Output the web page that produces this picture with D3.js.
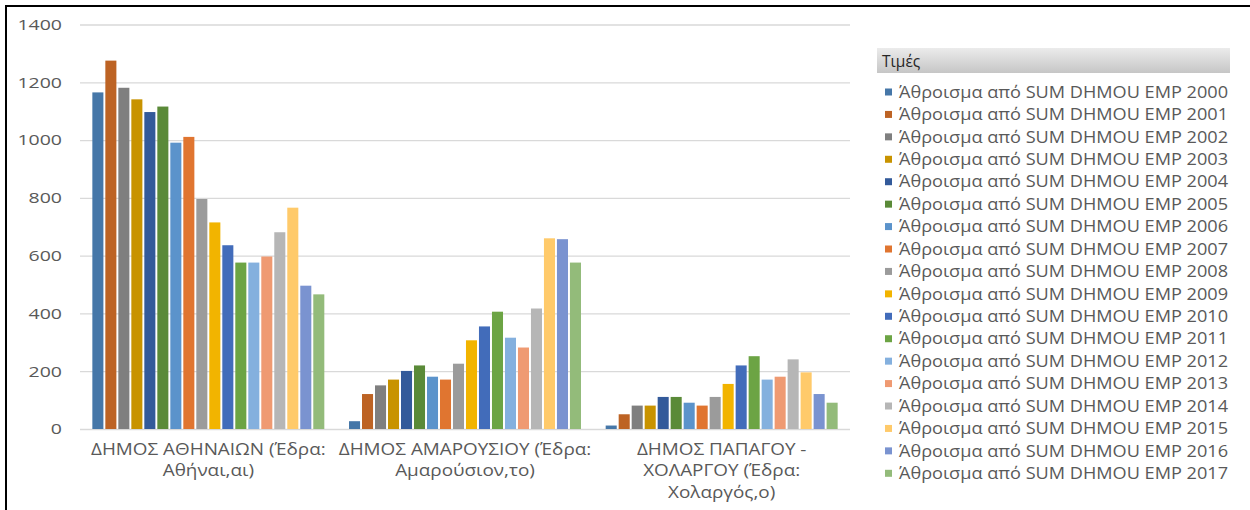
<!DOCTYPE html>
<html>
<head>
<meta charset="utf-8">
<script src="https://cdn.jsdelivr.net/npm/d3@7"></script>
<style>
  html, body { margin: 0; padding: 0; background: #fff; }
  svg { display: block; }
  text { font-family: "Open Sans", "DejaVu Sans", sans-serif; }
</style>
</head>
<body>
<svg id="chart" width="1250" height="510"></svg>
<script>
// Municipalities (category axis), label lines as wrapped under the axis
const categories = ["ΑΘΗΝΑΙΩΝ", "ΑΜΑΡΟΥΣΙΟΥ", "ΠΑΠΑΓΟΥ-ΧΟΛΑΡΓΟΥ"];
const categoryLabels = [
  ["ΔΗΜΟΣ ΑΘΗΝΑΙΩΝ (Έδρα:", "Αθήναι,αι)"],
  ["ΔΗΜΟΣ ΑΜΑΡΟΥΣΙΟΥ (Έδρα:", "Αμαρούσιον,το)"],
  ["ΔΗΜΟΣ ΠΑΠΑΓΟΥ -", "ΧΟΛΑΡΓΟΥ (Έδρα:", "Χολαργός,ο)"]
];

// One series per year
const years = [2000, 2001, 2002, 2003, 2004, 2005, 2006, 2007, 2008,
               2009, 2010, 2011, 2012, 2013, 2014, 2015, 2016, 2017];

// Values per municipality, in year order
const athina   = [1165, 1275, 1181, 1141, 1097, 1116, 991, 1011, 796,
                  715, 636, 576, 576, 597, 681, 766, 496, 466];
const marousi  = [27, 121, 151, 171, 201, 220, 181, 171, 226,
                  307, 355, 406, 316, 282, 417, 660, 657, 576];
const papagou  = [12, 51, 81, 81, 111, 111, 91, 81, 111,
                  156, 220, 252, 171, 181, 241, 196, 121, 91];

const yTicks = [0, 200, 400, 600, 800, 1000, 1200, 1400];
const legendTitle = "Τιμές";
const seriesPrefix = "Άθροισμα από SUM DHMOU EMP ";

const colors = ["#4677A8", "#BD6324", "#7F7F7F", "#C89300", "#335A9A", "#5A8A38",
                "#5B93CB", "#E07530", "#9B9B9B", "#F2B400", "#426CBA", "#6CA444",
                "#84B0DE", "#EF9A72", "#B6B6B6", "#FFCA6A", "#7A93D0", "#93BB7A"];

const values = [athina, marousi, papagou];

const svg = d3.select("#chart");

// Outer frame (top and left edges visible)
svg.append("rect")
  .attr("x", 6).attr("y", 6)
  .attr("width", 1300).attr("height", 600)
  .attr("fill", "none").attr("stroke", "#000").attr("stroke-width", 2);

const plot = { left: 80, right: 850, top: 24.5, bottom: 429 };

const x0 = d3.scaleBand().domain(categories).range([plot.left, plot.right]);
const x1 = d3.scaleBand().domain(years)
  .range([0, x0.bandwidth()]).paddingInner(0.15).paddingOuter(0.95);
const y = d3.scaleLinear().domain([0, 1400]).range([plot.bottom, plot.top]);
const color = d3.scaleOrdinal().domain(years).range(colors);

// Horizontal gridlines and value labels
const labelStretch = 1.3;
const yAxis = d3.axisLeft(y).tickValues(yTicks)
  .tickSize(-(plot.right - plot.left)).tickPadding(18).tickFormat(d3.format("d"));
const gy = svg.append("g").attr("transform", `translate(${plot.left},0)`).call(yAxis);
gy.select(".domain").remove();
gy.selectAll(".tick line").attr("stroke", "#d9d9d9").attr("stroke-width", 1.3);
gy.selectAll(".tick text")
  .attr("fill", "#595959").attr("font-size", 15)
  .attr("x", -18 / labelStretch)
  .attr("transform", `scale(${labelStretch},1)`);

// Bars
const groups = svg.append("g").selectAll("g")
  .data(categories)
  .join("g")
  .attr("transform", d => `translate(${x0(d)},0)`);

groups.selectAll("rect")
  .data((d, i) => years.map((yr, j) => ({ year: yr, value: values[i][j] })))
  .join("rect")
  .attr("x", d => x1(d.year))
  .attr("width", x1.bandwidth())
  .attr("y", d => y(d.value))
  .attr("height", d => y(0) - y(d.value))
  .attr("fill", d => color(d.year));

// Category labels
const xAxis = d3.axisBottom(x0).tickSize(0).tickFormat("");
const gx = svg.append("g").attr("transform", `translate(0,${plot.bottom})`).call(xAxis);
gx.select(".domain").remove();
gx.selectAll(".tick").each(function (d, i) {
  const t = d3.select(this).append("text")
    .attr("text-anchor", "middle")
    .attr("fill", "#595959")
    .attr("font-size", 15.5)
    .attr("transform", "scale(1.22,1)");
  categoryLabels[i].forEach((line, k) => {
    t.append("tspan").attr("x", 0).attr("y", 26 + k * 21.5).text(line);
  });
});

// Legend
const legend = svg.append("g");
const grad = svg.append("defs").append("linearGradient")
  .attr("id", "hdr").attr("x1", 0).attr("y1", 0).attr("x2", 0).attr("y2", 1);
grad.append("stop").attr("offset", "0%").attr("stop-color", "#ebebeb");
grad.append("stop").attr("offset", "100%").attr("stop-color", "#c6c6c6");

legend.append("rect")
  .attr("x", 877).attr("y", 48).attr("width", 353).attr("height", 25)
  .attr("fill", "url(#hdr)");
legend.append("text")
  .attr("x", 882).attr("y", 67)
  .attr("fill", "#262626").attr("font-size", 15.5)
  .text(legendTitle);

const rowY = d3.scaleLinear().domain([0, years.length - 1]).range([92, 473.3]);
const items = legend.selectAll("g.item")
  .data(years)
  .join("g").attr("class", "item")
  .attr("transform", (d, i) => `translate(0,${rowY(i)})`);
items.append("rect")
  .attr("x", 885).attr("y", -3.5).attr("width", 7).attr("height", 7)
  .attr("fill", d => color(d));
items.append("text")
  .attr("x", 899).attr("y", 0).attr("dy", "0.36em")
  .attr("fill", "#595959").attr("font-size", 16)
  .attr("textLength", 329).attr("lengthAdjust", "spacingAndGlyphs")
  .text(d => seriesPrefix + d);
</script>
</body>
</html>
